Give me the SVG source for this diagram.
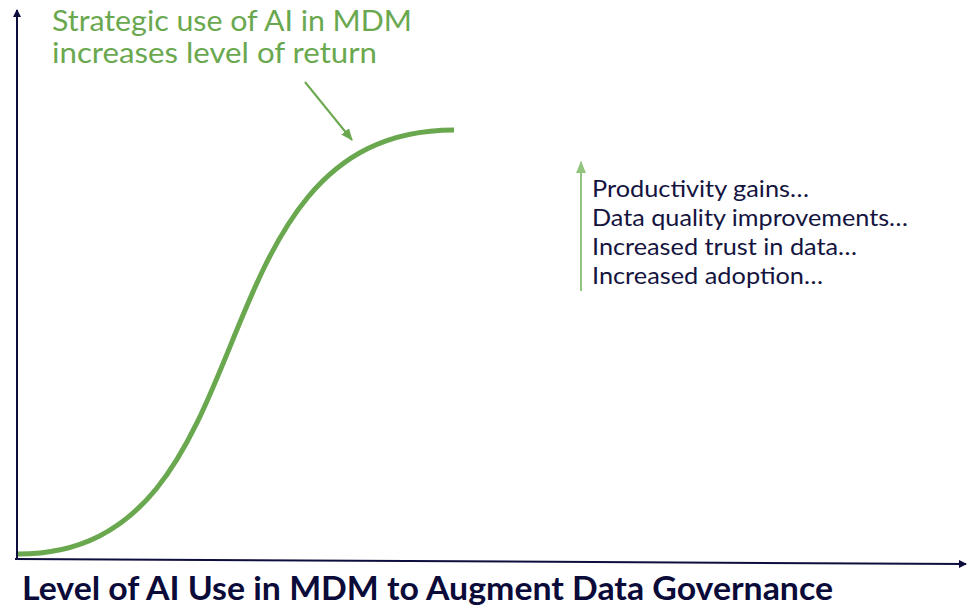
<svg xmlns="http://www.w3.org/2000/svg" width="967" height="607" viewBox="0 0 967 607">
<defs>
<style>
.axis{stroke:#0e0e3e;stroke-width:2;fill:none}
.curve{stroke:#6aa84f;stroke-width:5;fill:none;stroke-linecap:butt}
.green{fill:#6aa84f;font-family:Lato,"Liberation Sans",sans-serif;font-size:29px}
.list{fill:#14143f;font-family:Lato,"Liberation Sans",sans-serif;font-size:23px}
.title{fill:#0b0b3a;font-family:Lato,"Liberation Sans",sans-serif;font-size:32px;font-weight:bold}
</style>
<marker id="ahNavy" markerWidth="8" markerHeight="8" refX="7" refY="4" orient="auto" markerUnits="userSpaceOnUse"><path d="M0,0 L8,4 L0,8 Z" fill="#0e0e3e"/></marker>
<marker id="ahGreen" markerWidth="12" markerHeight="10" refX="11" refY="5" orient="auto" markerUnits="userSpaceOnUse"><path d="M0,0 L12,5 L0,10 Z" fill="#6aa84f"/></marker>
<marker id="ahLight" markerWidth="12" markerHeight="10" refX="11" refY="5" orient="auto" markerUnits="userSpaceOnUse"><path d="M0,0 L12,5 L0,10 Z" fill="#93c47d"/></marker>
</defs>
<g id="connectors">
<line class="axis" x1="17" y1="559" x2="17" y2="10" marker-end="url(#ahNavy)"/>
<line class="axis" x1="15" y1="559" x2="966" y2="564" marker-end="url(#ahNavy)"/>
<line x1="305" y1="82" x2="352" y2="140" stroke="#6aa84f" stroke-width="2" marker-end="url(#ahGreen)"/>
<line x1="581" y1="291" x2="581" y2="162" stroke="#93c47d" stroke-width="2" marker-end="url(#ahLight)"/>
</g>
<g id="curve">
<path class="curve" d="M18,554 C276,554 185,130 454,130"/>
</g>
<g id="annotation">
<text class="green" x="52" y="31" textLength="360" lengthAdjust="spacingAndGlyphs">Strategic use of AI in MDM</text>
<text class="green" x="52" y="63" textLength="325" lengthAdjust="spacingAndGlyphs">increases level of return</text>
</g>
<g id="benefits">
<text class="list" x="592" y="197" textLength="217" lengthAdjust="spacingAndGlyphs">Productivity gains…</text>
<text class="list" x="592" y="226" textLength="316" lengthAdjust="spacingAndGlyphs">Data quality improvements…</text>
<text class="list" x="592" y="255" textLength="265" lengthAdjust="spacingAndGlyphs">Increased trust in data…</text>
<text class="list" x="592" y="284" textLength="231" lengthAdjust="spacingAndGlyphs">Increased adoption…</text>
</g>
<g id="xlabel">
<text class="title" x="22" y="600" textLength="811" lengthAdjust="spacingAndGlyphs">Level of AI Use in MDM to Augment Data Governance</text>
</g>
</svg>
